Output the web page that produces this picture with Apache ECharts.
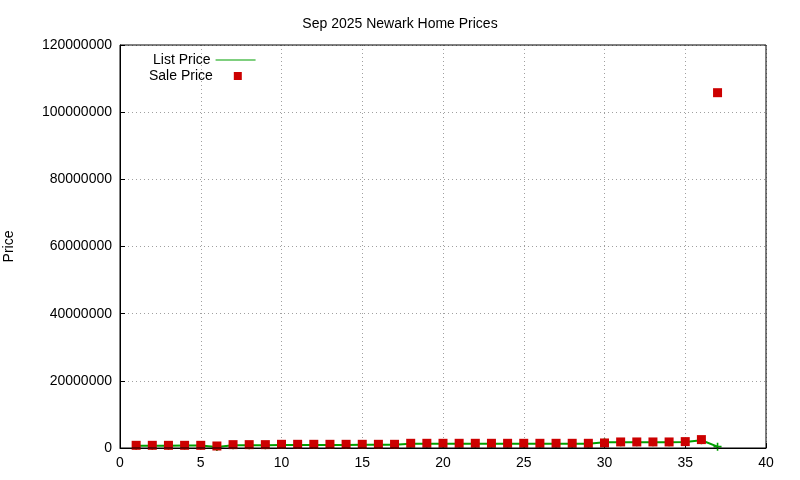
<!DOCTYPE html>
<html>
<head>
<meta charset="utf-8">
<script src="https://cdn.jsdelivr.net/npm/echarts@6/dist/echarts.min.js"></script>
<style>html,body{margin:0;padding:0;background:#fff}#chart{width:800px;height:480px}</style>
</head>
<body>
<div id="chart"></div>
<script>
// house index 1..37
const houseIndex = [1,2,3,4,5,6,7,8,9,10,11,12,13,14,15,16,17,18,19,20,21,22,23,24,25,26,27,28,29,30,31,32,33,34,35,36,37];
const listPrice = [700000,700000,700000,750000,750000,300000,800000,800000,800000,900000,900000,900000,900000,900000,950000,950000,1000000,1300000,1300000,1300000,1300000,1300000,1300000,1300000,1300000,1300000,1300000,1300000,1300000,1700000,1700000,1700000,1700000,1700000,1800000,2300000,400000];
const salePrice = [800000,800000,800000,800000,800000,600000,1000000,1000000,1000000,1100000,1100000,1100000,1100000,1100000,1100000,1100000,1100000,1400000,1400000,1400000,1400000,1400000,1400000,1400000,1400000,1400000,1400000,1400000,1400000,1500000,1800000,1800000,1800000,1800000,1900000,2500000,105800000];

const chart = echarts.init(document.getElementById('chart'));
const font = 'Liberation Sans, Arial, sans-serif';
const gridLine = { show: true, lineStyle: { color: '#a0a0a0', type: [1, 3], width: 1 } };
const legendText = { fontSize: 14, color: '#000', fontFamily: font };

chart.setOption({
    animation: false,
    textStyle: { fontFamily: font },
    title: { text: 'Sep 2025 Newark Home Prices', left: 'center', top: 12,
        textStyle: { fontSize: 14, fontWeight: 'normal', color: '#000', fontFamily: font } },
    legend: [
        { left: 148, top: 48, align: 'right', itemWidth: 40, itemHeight: 10,
          textStyle: legendText,
          data: [{ name: 'List Price', icon: 'path://M0,4.5L40,4.5L40,5.5L0,5.5Z',
                   itemStyle: { color: '#00a000', opacity: 1 } }] },
        { left: 144, top: 64, align: 'right', itemWidth: 8, itemHeight: 8,
          textStyle: Object.assign({}, legendText, { padding: [0, 16, 0, 0] }),
          data: [{ name: 'Sale Price', icon: 'rect', itemStyle: { color: '#cc0000', opacity: 1 } }] }
    ],
    grid: { left: 120, right: 34, top: 45, bottom: 32, containLabel: false, outerBoundsMode: 'none' },
    xAxis: {
        type: 'value', min: 0, max: 40, interval: 5,
        axisLine: { show: true, onZero: false, lineStyle: { color: '#000' } },
        axisTick: { inside: true, lineStyle: { color: '#000' } },
        axisLabel: { fontSize: 14, color: '#000' },
        splitLine: gridLine
    },
    yAxis: {
        type: 'value', min: 0, max: 120000000, interval: 20000000,
        name: 'Price', nameLocation: 'middle', nameGap: 104, nameRotate: 90,
        nameTextStyle: { fontSize: 14, color: '#000' },
        axisLine: { show: true, lineStyle: { color: '#000' } },
        axisTick: { show: true, inside: true, lineStyle: { color: '#000' } },
        axisLabel: { fontSize: 14, color: '#000', formatter: v => String(v) },
        splitLine: gridLine
    },
    graphic: [{ type: 'rect', shape: { x: 120, y: 45, width: 646, height: 403 },
        style: { fill: 'none', stroke: '#000', lineWidth: 1 }, z: 10, silent: true }],
    series: [
        { name: 'List Price', type: 'line', data: houseIndex.map((x, i) => [x, listPrice[i]]),
          symbol: 'path://M4,0L6,0L6,4L10,4L10,6L6,6L6,10L4,10L4,6L0,6L0,4L4,4Z', symbolSize: 8,
          lineStyle: { color: '#00a000', width: 2 }, itemStyle: { color: '#00a000' } },
        { name: 'Sale Price', type: 'scatter', data: houseIndex.map((x, i) => [x, salePrice[i]]),
          symbol: 'rect', symbolSize: 9, itemStyle: { color: '#cc0000', opacity: 1 }, z: 3 }
    ]
});
</script>
</body>
</html>
